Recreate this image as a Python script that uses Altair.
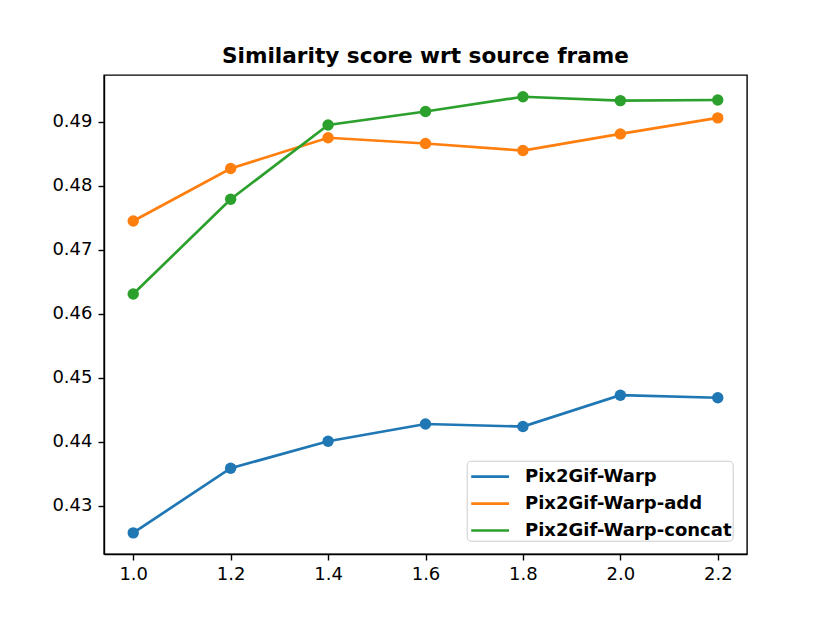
import altair as alt
import pandas as pd

x_vals = [1.0, 1.2, 1.4, 1.6, 1.8, 2.0, 2.2]
series_names = ["Pix2Gif-Warp", "Pix2Gif-Warp-add", "Pix2Gif-Warp-concat"]
warp = [0.4258, 0.4359, 0.4401, 0.4428, 0.4424, 0.4473, 0.4469]
warp_add = [0.4745, 0.4827, 0.4875, 0.4866, 0.4855, 0.4881, 0.4906]
warp_concat = [0.4631, 0.4779, 0.4895, 0.4916, 0.4939, 0.4933, 0.4934]
colors = ["#1f77b4", "#ff7f0e", "#2ca02c"]
x_ticks = [1.0, 1.2, 1.4, 1.6, 1.8, 2.0, 2.2]
y_ticks = [0.43, 0.44, 0.45, 0.46, 0.47, 0.48, 0.49]

rows = []
for name, vals in zip(series_names, [warp, warp_add, warp_concat]):
    for xv, yv in zip(x_vals, vals):
        rows.append({"x": xv, "y": yv, "series": name})
df = pd.DataFrame(rows)

FONT = "DejaVu Sans"

x_enc = alt.X("x:Q", scale=alt.Scale(domain=[0.94, 2.26], nice=False, zero=False),
              axis=alt.Axis(values=x_ticks, format=".1f", title=None))
y_enc = alt.Y("y:Q", scale=alt.Scale(domain=[0.4225, 0.4973], nice=False, zero=False),
              axis=alt.Axis(values=y_ticks, format=".2f", title=None))
color_enc = alt.Color("series:N", scale=alt.Scale(domain=series_names, range=colors),
                      legend=alt.Legend(title=None, orient="none", legendX=362.7, legendY=385.7,
                                        symbolType="M-1.4,0H1.4", symbolStrokeWidth=2.7,
                                        symbolSize=729, rowPadding=2.9,
                                        symbolOffset=7.4,
                                        labelFont=FONT, labelFontWeight="bold", labelFontSize=18,
                                        labelColor="black", labelOffset=19.9, labelLimit=400,
                                        fillColor="white", strokeColor="#cccccc",
                                        cornerRadius=4, padding=1))

lines = alt.Chart(df).mark_line(strokeWidth=2.7).encode(x=x_enc, y=y_enc, color=color_enc,
                                                       order="x:Q")
points = alt.Chart(df).mark_circle(size=130, opacity=1).encode(
    x=x_enc, y=y_enc,
    color=alt.Color("series:N", scale=alt.Scale(domain=series_names, range=colors), legend=None))

chart = alt.layer(lines, points).properties(
    width=643, height=479,
    title=alt.TitleParams("Similarity score wrt source frame", font=FONT, fontSize=21.6,
                          fontWeight="bold", color="black", anchor="middle",
                          baseline="alphabetic", offset=11, dy=21),
    autosize=alt.AutoSizeParams(type="none"),
    padding={"left": 96, "top": 67, "right": 70, "bottom": 60},
).configure_view(stroke="black", strokeWidth=1.4).configure_axis(
    grid=False, domainColor="black", domainWidth=1.4, tickColor="black", tickWidth=1.4,
    tickSize=6, labelFont=FONT, labelFontSize=18, labelColor="black", labelPadding=5,
).configure_axisY(labelPadding=6)

chart.save("out.html", embed_options={"renderer": "svg", "actions": False})
